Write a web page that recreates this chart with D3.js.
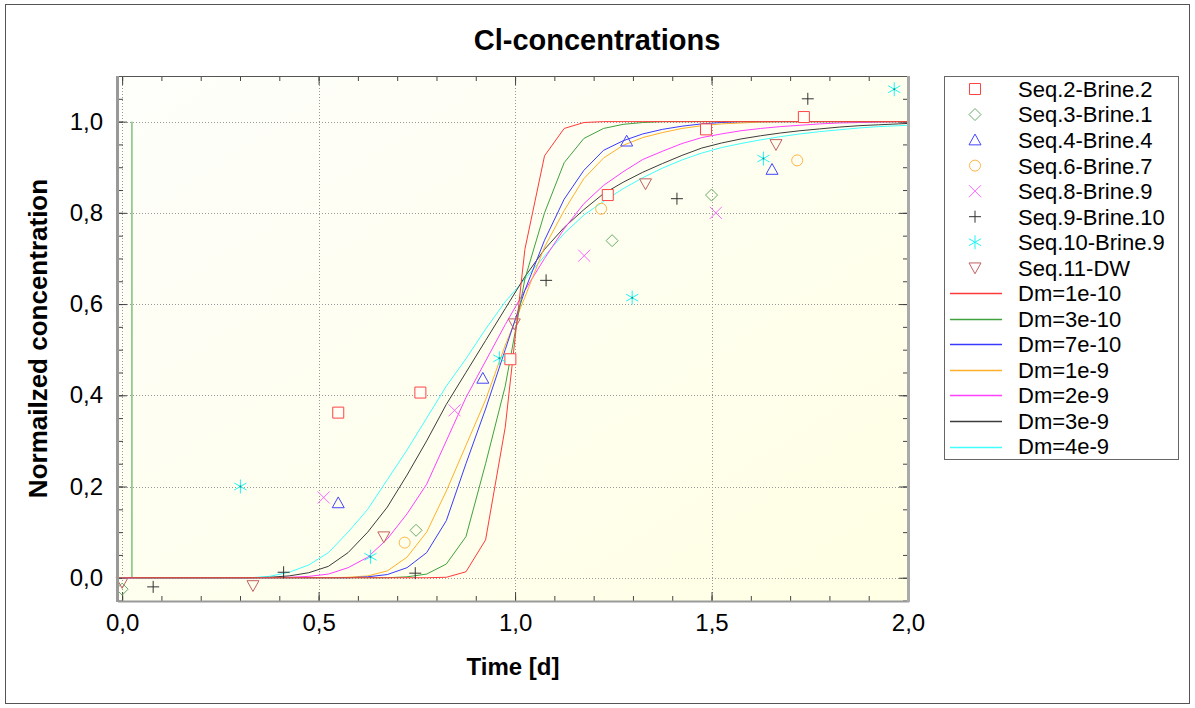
<!DOCTYPE html>
<meta charset="utf-8">
<style>
body { margin: 0; background: #fff; }
text { font-family: Arial, "Liberation Sans", sans-serif; fill: #000; }
.tick text { font-size: 24px; }
.tick line { stroke: #444; }
.grid line { stroke: #999; stroke-dasharray: 1,2; }
.curve { fill: none; stroke-width: 1px; }
.legend text { font-size: 22px; }
</style>
<body>
<svg width="1195" height="708"></svg>
<script src="https://d3js.org/d3.v7.min.js"></script>
<script>
// model curves: common time steps [d] and normalized concentrations
var times = [0, 0.025, 0.075, 0.125, 0.175, 0.225, 0.275, 0.325, 0.375, 0.425,
  0.475, 0.525, 0.575, 0.625, 0.675, 0.725, 0.775, 0.825, 0.875, 0.925,
  0.975, 1.025, 1.075, 1.125, 1.175, 1.225, 1.275, 1.325, 1.375, 1.425,
  1.475, 1.525, 1.575, 1.625, 1.675, 1.725, 1.775, 1.825, 1.875, 1.925,
  1.975, 2.0];

var dm1e10 = [0,0,0,0,0,0,0,0,0,0,
  0,0,0,0,0,0,0,0.001,0.013,0.083,
  0.33,0.72,0.925,0.985,0.998,1,1,1,1,1,
  1,1,1,1,1,1,1,1,1,1,
  1,1];
var dm3e10 = [0,0,0,0,0,0,0,0,0,0,
  0,0,0,0,0,0.002,0.008,0.03,0.09,0.25,
  0.42,0.655,0.80,0.91,0.963,0.985,0.994,0.998,1,1,
  1,1,1,1,1,1,1,1,1,1,
  1,1];
var dm3e10Start = [0.025, 1];
var dm7e10 = [0,0,0,0,0,0,0,0,0,0,
  0,0,0,0.002,0.007,0.022,0.055,0.125,0.25,0.37,
  0.50,0.63,0.74,0.83,0.893,0.937,0.958,0.973,0.983,0.99,
  0.995,0.998,1,1,1,1,1,1,1,1,
  1,1];
var dm1e9 = [0,0,0,0,0,0,0,0,0,0,
  0,0,0.001,0.004,0.015,0.045,0.10,0.19,0.29,0.39,
  0.51,0.615,0.725,0.805,0.875,0.92,0.948,0.965,0.976,0.985,
  0.991,0.995,0.997,0.999,1,1,1,1,1,1,
  1,1];
var dm2e9 = [0,0,0,0,0,0,0,0,0,0.001,
  0.003,0.008,0.022,0.045,0.085,0.14,0.205,0.30,0.395,0.475,
  0.555,0.63,0.70,0.765,0.82,0.86,0.89,0.917,0.935,0.952,
  0.965,0.973,0.98,0.985,0.989,0.992,0.995,0.997,0.998,0.999,
  1,1];
var dm3e9 = [0,0,0,0,0,0,0,0,0.001,0.004,
  0.011,0.025,0.055,0.10,0.155,0.225,0.30,0.38,0.45,0.52,
  0.59,0.66,0.72,0.768,0.807,0.842,0.867,0.889,0.908,0.926,
  0.942,0.953,0.962,0.969,0.975,0.98,0.984,0.988,0.991,0.993,
  0.995,0.996];
var dm4e9 = [0,0,0,0,0,0,0,0,0.003,0.012,
  0.028,0.055,0.10,0.15,0.215,0.28,0.35,0.42,0.48,0.545,
  0.605,0.655,0.705,0.755,0.795,0.825,0.853,0.877,0.898,0.916,
  0.931,0.943,0.952,0.96,0.967,0.973,0.978,0.982,0.986,0.989,
  0.991,0.992];

// measured data [time, conc]
var seq2 = [[0.55,0.362],[0.759,0.406],[0.988,0.479],[1.236,0.839],[1.486,0.983],[1.735,1.01]];
var seq3 = [[0.0,-0.025],[0.748,0.104],[1.247,0.739],[1.5,0.839]];
var seq4 = [[0.55,0.164],[0.918,0.437],[1.284,0.957],[1.654,0.895]];
var seq6 = [[0.719,0.077],[1.219,0.809],[1.718,0.915]];
var seq8 = [[0.513,0.176],[0.846,0.367],[1.176,0.706],[1.511,0.80]];
var seq9 = [[0.079,-0.02],[0.411,0.012],[0.746,0.01],[1.079,0.652],[1.412,0.831],[1.745,1.05]];
var seq10 = [[0.301,0.2],[0.632,0.046],[0.96,0.481],[1.298,0.614],[1.632,0.919],[1.965,1.071]];
var seq11 = [[0.0,-0.01],[0.333,-0.017],[0.666,0.09],[0.998,0.557],[1.332,0.864],[1.664,0.95]];

var xMajor = [0, 0.5, 1, 1.5, 2];
var yMajor = [0, 0.2, 0.4, 0.6, 0.8, 1.0];

var svg = d3.select("svg");
var pLeft = 118, pRight = 908, pTop = 76, pBottom = 601;

var x = d3.scaleLinear().domain([-0.0105, 2]).range([pLeft, pRight]);
var y = d3.scaleLinear().domain([-0.051, 1.1]).range([pBottom, pTop]);

var fmt = d3.formatLocale({decimal: ",", thousands: ".", grouping: [3], currency: ["", ""]}).format(".1f");

// outer frame
svg.append("rect").attr("x", 5.5).attr("y", 4.5).attr("width", 1184).attr("height", 699)
  .attr("fill", "#fff").attr("stroke", "#555");

// plot background
var defs = svg.append("defs");
var grad = defs.append("linearGradient").attr("id", "bg")
  .attr("x1", "0").attr("y1", "0").attr("x2", "1").attr("y2", "1");
grad.append("stop").attr("offset", "0").attr("stop-color", "#fefefb");
grad.append("stop").attr("offset", "1").attr("stop-color", "#ffffe4");
defs.append("clipPath").attr("id", "clip").append("rect")
  .attr("x", pLeft).attr("y", pTop).attr("width", pRight - pLeft).attr("height", pBottom - pTop);

svg.append("rect").attr("x", pLeft).attr("y", pTop).attr("width", pRight - pLeft).attr("height", pBottom - pTop)
  .attr("fill", "url(#bg)");

// grid
var grid = svg.append("g").attr("class", "grid");
grid.selectAll(".gx").data(xMajor.slice(0, 4)).enter().append("line")
  .attr("x1", d => Math.round(x(d)) + 0.5).attr("x2", d => Math.round(x(d)) + 0.5)
  .attr("y1", pTop).attr("y2", pBottom);
grid.selectAll(".gy").data(yMajor).enter().append("line")
  .attr("y1", d => Math.round(y(d)) + 0.5).attr("y2", d => Math.round(y(d)) + 0.5)
  .attr("x1", pLeft).attr("x2", pRight);

// axes
var xMinor = d3.range(0, 2.0001, 0.1);
var yMinor = d3.range(-0.05, 1.1001, 0.05);

function clean(g) { g.select(".domain").remove(); }

svg.append("g").attr("transform", "translate(0," + pBottom + ")")
  .call(d3.axisBottom(x).tickValues(xMajor).tickSizeInner(-9).tickSizeOuter(0).tickPadding(13).tickFormat(fmt))
  .call(clean);
svg.append("g").attr("transform", "translate(0," + pBottom + ")")
  .call(d3.axisBottom(x).tickValues(xMinor).tickSizeInner(-5).tickSizeOuter(0).tickFormat(""))
  .call(clean);
svg.append("g").attr("transform", "translate(0," + pTop + ")")
  .call(d3.axisTop(x).tickValues(xMajor).tickSizeInner(-9).tickSizeOuter(0).tickFormat(""))
  .call(clean);
svg.append("g").attr("transform", "translate(0," + pTop + ")")
  .call(d3.axisTop(x).tickValues(xMinor).tickSizeInner(-5).tickSizeOuter(0).tickFormat(""))
  .call(clean);
svg.append("g").attr("transform", "translate(" + pLeft + ",0)")
  .call(d3.axisLeft(y).tickValues(yMajor).tickSizeInner(-9).tickSizeOuter(0).tickPadding(15).tickFormat(fmt))
  .call(clean);
svg.append("g").attr("transform", "translate(" + pLeft + ",0)")
  .call(d3.axisLeft(y).tickValues(yMinor).tickSizeInner(-5).tickSizeOuter(0).tickFormat(""))
  .call(clean);
svg.append("g").attr("transform", "translate(" + pRight + ",0)")
  .call(d3.axisRight(y).tickValues(yMajor).tickSizeInner(-9).tickSizeOuter(0).tickFormat(""))
  .call(clean);
svg.append("g").attr("transform", "translate(" + pRight + ",0)")
  .call(d3.axisRight(y).tickValues(yMinor).tickSizeInner(-5).tickSizeOuter(0).tickFormat(""))
  .call(clean);
svg.selectAll(".tick text").attr("font-family", null).attr("font-size", null);

// curves
var curves = [
  {name: "Dm=1e-10", color: "#ff3a3a", v: dm1e10},
  {name: "Dm=3e-10", color: "#3fa23f", v: dm3e10},
  {name: "Dm=7e-10", color: "#3a3aff", v: dm7e10},
  {name: "Dm=1e-9", color: "#ffb02a", v: dm1e9},
  {name: "Dm=2e-9", color: "#ff40ff", v: dm2e9},
  {name: "Dm=3e-9", color: "#3c3c3c", v: dm3e9},
  {name: "Dm=4e-9", color: "#40ffff", v: dm4e9}
];
curves.forEach(function(c) {
  c.pts = times.map(function(t, i) { return [t, c.v[i]]; });
});
curves[1].pts = [dm3e10Start].concat(curves[1].pts.slice(1));

var line = d3.line().x(d => x(d[0])).y(d => y(d[1]));
var cg = svg.append("g").attr("clip-path", "url(#clip)");
curves.slice().reverse().forEach(function(c) {
  cg.append("path").attr("class", "curve").attr("stroke", c.color).attr("d", line(c.pts));
});

// marker shapes
function marker(type, s) {
  switch (type) {
    case "square": return "M" + (-s) + "," + (-s) + "h" + 2*s + "v" + 2*s + "h" + (-2*s) + "Z";
    case "diamond": return "M0," + (-s) + "L" + s + ",0L0," + s + "L" + (-s) + ",0Z";
    case "up": return "M0," + (-s) + "L" + s + "," + (s*0.8) + "L" + (-s) + "," + (s*0.8) + "Z";
    case "down": return "M0," + s + "L" + s + "," + (-s*0.8) + "L" + (-s) + "," + (-s*0.8) + "Z";
    case "circle": return "M" + s + ",0A" + s + "," + s + " 0 1,1 " + (-s) + ",0A" + s + "," + s + " 0 1,1 " + s + ",0Z";
    case "x": return "M" + (-s) + "," + (-s) + "L" + s + "," + s + "M" + (-s) + "," + s + "L" + s + "," + (-s);
    case "plus": return "M" + (-s) + ",0H" + s + "M0," + (-s) + "V" + s;
    case "star": var a = s * 0.87, b = s * 0.5;
      return "M0," + (-s) + "V" + s + "M" + (-a) + "," + (-b) + "L" + a + "," + b +
        "M" + (-a) + "," + b + "L" + a + "," + (-b);
  }
}

var series = [
  {name: "Seq.2-Brine.2", color: "#ff4444", type: "square", s: 5.5, fill: "#fffff6", data: seq2},
  {name: "Seq.3-Brine.1", color: "#6aac6a", type: "diamond", s: 6, fill: "none", data: seq3},
  {name: "Seq.4-Brine.4", color: "#4444ff", type: "up", s: 6, fill: "none", data: seq4},
  {name: "Seq.6-Brine.7", color: "#ffb444", type: "circle", s: 5.5, fill: "none", data: seq6},
  {name: "Seq.8-Brine.9", color: "#ff66ff", type: "x", s: 6, fill: "none", data: seq8},
  {name: "Seq.9-Brine.10", color: "#333333", type: "plus", s: 6, fill: "none", data: seq9},
  {name: "Seq.10-Brine.9", color: "#1ff5f5", type: "star", s: 7, fill: "none", data: seq10},
  {name: "Seq.11-DW", color: "#c06060", type: "down", s: 6, fill: "none", data: seq11}
];
series.forEach(function(sr) {
  svg.append("g").selectAll("path").data(sr.data).enter().append("path")
    .attr("transform", d => "translate(" + x(d[0]) + "," + y(d[1]) + ")")
    .attr("d", marker(sr.type, sr.s))
    .attr("fill", sr.fill).attr("stroke", sr.color).attr("stroke-width", 1);
});
// dark centre dot of the asterisk
svg.append("g").selectAll("circle").data(seq10).enter().append("circle")
  .attr("cx", d => x(d[0])).attr("cy", d => y(d[1])).attr("r", 1).attr("fill", "#109090");

// frame of plot
svg.append("line").attr("x1", pLeft).attr("x2", pRight).attr("y1", pTop + 0.5).attr("y2", pTop + 0.5).attr("stroke", "#555");
svg.append("line").attr("x1", pLeft).attr("x2", pRight + 1).attr("y1", pBottom + 0.5).attr("y2", pBottom + 0.5).attr("stroke", "#999").attr("stroke-width", 2);
svg.append("line").attr("x1", pLeft - 0.5).attr("x2", pLeft - 0.5).attr("y1", pTop).attr("y2", pBottom + 1).attr("stroke", "#999").attr("stroke-width", 3);
svg.append("line").attr("x1", pRight + 0.5).attr("x2", pRight + 0.5).attr("y1", pTop).attr("y2", pBottom + 1).attr("stroke", "#aaa").attr("stroke-width", 3);

// titles
svg.append("text").attr("x", 597).attr("y", 50).attr("text-anchor", "middle")
  .attr("font-size", 29).attr("font-weight", "bold").text("Cl-concentrations");
svg.append("text").attr("x", (pLeft + pRight) / 2).attr("y", 675).attr("text-anchor", "middle")
  .attr("font-size", 24).attr("font-weight", "bold").text("Time [d]");
svg.append("text").attr("transform", "translate(47," + ((pTop + pBottom) / 2) + ") rotate(-90)")
  .attr("text-anchor", "middle").attr("font-size", 26).attr("font-weight", "bold").text("Normailzed concentration");

// legend
var lg = svg.append("g").attr("class", "legend");
lg.append("rect").attr("x", 944.5).attr("y", 76.5).attr("width", 234).attr("height", 383)
  .attr("fill", "#fff").attr("stroke", "#666");
var rowY = d3.scaleLinear().domain([0, 14]).range([89, 446.5]);
series.forEach(function(sr, i) {
  lg.append("path").attr("transform", "translate(975," + rowY(i) + ")")
    .attr("d", marker(sr.type, sr.s)).attr("fill", "none").attr("stroke", sr.color);
  lg.append("text").attr("x", 1018).attr("y", rowY(i)).attr("dy", "0.36em").text(sr.name);
});
curves.forEach(function(c, i) {
  var yy = Math.round(rowY(i + 8)) + 0.5;
  lg.append("line").attr("x1", 950).attr("x2", 1002).attr("y1", yy).attr("y2", yy)
    .attr("stroke", c.color).attr("stroke-width", 1.3);
  lg.append("text").attr("x", 1018).attr("y", rowY(i + 8)).attr("dy", "0.36em").text(c.name);
});
</script>
